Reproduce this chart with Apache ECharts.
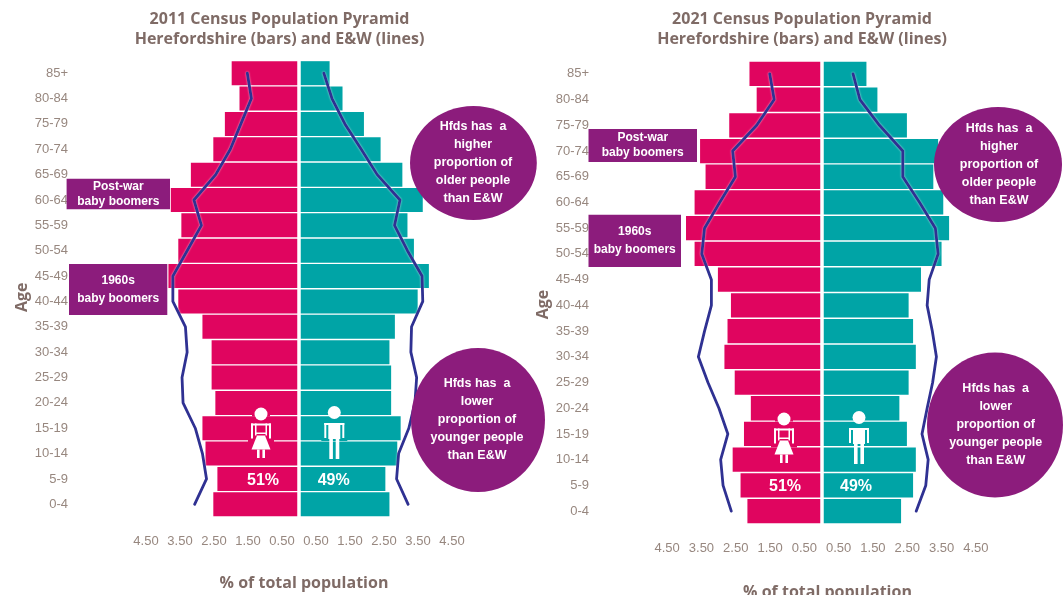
<!DOCTYPE html>
<html>
<head>
<meta charset="utf-8">
<script src="https://cdn.jsdelivr.net/npm/echarts@6/dist/echarts.min.js"></script>
<style>html,body{margin:0;padding:0;background:#fff}#c{width:1063px;height:595px}</style>
</head>
<body>
<div id="c"></div>
<script>
const ageBands = ['85+','80-84','75-79','70-74','65-69','60-64','55-59','50-54','45-49','40-44','35-39','30-34','25-29','20-24','15-19','10-14','5-9','0-4'];
const tickValues = [-4.5,-3.5,-2.5,-1.5,-0.5,0.5,1.5,2.5,3.5,4.5];

const female2011Bars = [1.98,1.75,2.18,2.52,3.18,3.77,3.46,3.55,3.84,3.55,2.84,2.57,2.57,2.46,2.84,2.75,2.40,2.52];
const male2011Bars   = [0.90,1.28,1.91,2.40,3.04,3.64,3.19,3.38,3.82,3.49,2.82,2.66,2.71,2.71,2.99,2.89,2.54,2.66];
const female2011Line = [1.52,1.40,1.71,2.02,2.45,3.09,2.87,3.29,3.71,3.71,3.34,3.29,3.44,3.41,3.05,2.84,2.72,3.07];
const male2011Line   = [0.73,0.97,1.35,1.83,2.30,2.97,2.81,3.19,3.62,3.64,3.31,3.29,3.46,3.41,3.23,2.93,2.87,3.21];

const female2021Bars = [2.10,1.89,2.69,3.54,3.38,3.70,3.95,3.70,3.02,2.64,2.74,2.83,2.53,2.06,2.26,2.59,2.36,2.16];
const male2021Bars   = [1.31,1.63,2.49,3.40,3.26,3.55,3.72,3.50,2.90,2.54,2.67,2.75,2.54,2.27,2.49,2.75,2.67,2.32];
const female2021Line = [1.51,1.38,1.89,2.59,2.51,2.97,3.41,3.49,3.21,3.21,3.41,3.59,3.31,2.99,2.73,2.94,2.87,2.63];
const male2021Line   = [0.92,1.12,1.69,2.37,2.37,2.86,3.32,3.40,3.14,3.08,3.23,3.35,3.24,3.08,2.93,3.11,3.04,2.76];

const title2011 = '2011 Census Population Pyramid\nHerefordshire (bars) and E&W (lines)';
const title2021 = '2021 Census Population Pyramid\nHerefordshire (bars) and E&W (lines)';
const xName = '% of total population';
const yName = 'Age';
const postWar = 'Post-war\nbaby boomers';
const sixties = '1960s\nbaby boomers';
const olderNote = 'Hfds has  a\nhigher\nproportion of\nolder people\nthan E&W';
const youngerNote = 'Hfds has  a\nlower\nproportion of\nyounger people\nthan E&W';

const PINK = '#e0055f', TEAL = '#00a4a6', NAVY = '#2f3192', PURPLE = '#8c1c7c', GREY = '#97877f', BROWN = '#7f6b66';
const neg = a => a.map(v => -v);

function buildSeries(idx, fBars, mBars, fLine, mLine, barW) {
  const bar = (name, data, color, extra) => Object.assign({
    name, type: 'bar', xAxisIndex: idx, yAxisIndex: idx, stack: 'p' + idx, data, barWidth: barW,
    itemStyle: { color }, silent: true, z: 2
  }, extra || {});
  const line = (name, data) => ({
    name, type: 'line', xAxisIndex: idx, yAxisIndex: idx, data, symbol: 'none', z: 5, silent: true,
    lineStyle: { color: NAVY, width: 2.8, cap: 'round', join: 'round', shadowColor: 'rgba(255,255,255,.75)', shadowBlur: 2 }
  });
  return [
    bar('Herefordshire female', neg(fBars), PINK),
    bar('Herefordshire male', mBars, TEAL, {
      markLine: { silent: true, symbol: 'none', label: { show: false }, animation: false,
        lineStyle: { color: '#fff', width: 3.5, type: 'solid' }, data: [{ xAxis: 0 }] }
    }),
    line('E&W female', neg(fLine)),
    line('E&W male', mLine)
  ];
}

function xAxisOf(idx, gap, shift) {
  return {
    gridIndex: idx, type: 'value', min: -5, max: 5, position: 'bottom',
    axisLine: { show: false }, axisTick: { show: false }, splitLine: { show: false },
    axisLabel: { customValues: tickValues, margin: 18, color: GREY, fontFamily: 'Liberation Sans', fontSize: 13,
      formatter: v => Math.abs(v).toFixed(2) },
    name: xName, nameLocation: 'middle', nameGap: gap,
    nameTextStyle: { color: BROWN, fontFamily: 'Open Sans', fontWeight: 'bold', fontSize: 16, padding: [0, 0, 0, shift] }
  };
}
function yAxisOf(idx, gap, shift) {
  return {
    gridIndex: idx, type: 'category', inverse: true, data: ageBands,
    axisLine: { show: false, onZero: false }, axisTick: { show: false }, splitLine: { show: false },
    axisLabel: { margin: 61, color: GREY, fontFamily: 'Liberation Sans', fontSize: 13, interval: 0 },
    name: yName, nameLocation: 'middle', nameGap: gap,
    nameTextStyle: { color: BROWN, fontFamily: 'Open Sans', fontWeight: 'bold', fontSize: 16, padding: [0, shift, 0, 0] }
  };
}

function box(x, y, w, h, text, lh) {
  return [
    { type: 'rect', z: 20, silent: true, shape: { x, y, width: w, height: h }, style: { fill: PURPLE } },
    { type: 'text', z: 21, silent: true, x: x + w / 2, y: y + h / 2,
      style: { text, fill: '#fff', font: 'bold 12px "Liberation Sans"', align: 'center', verticalAlign: 'middle', lineHeight: lh } }
  ];
}
function bubble(cx, cy, rx, ry, tx, text) {
  return [
    { type: 'ellipse', z: 20, silent: true, shape: { cx, cy, rx, ry }, style: { fill: PURPLE } },
    { type: 'text', z: 21, silent: true, x: tx, y: cy,
      style: { text, fill: '#fff', font: 'bold 12.5px "Liberation Sans"', align: 'center', verticalAlign: 'middle', lineHeight: 18 } }
  ];
}
function r(x, y, w, h, fill) {
  return { type: 'rect', z: 12, silent: true, shape: { x, y, width: w, height: h }, style: { fill: fill || '#fff' } };
}
function gapPatch(cx, top, color) {
  return [ r(cx - 9, top + 6, 18, 3, color), r(cx - 13, top + 32, 26, 3, color) ];
}
function woman(cx, top) {
  return [
    ...gapPatch(cx, top, PINK),
    { type: 'circle', z: 13, silent: true, shape: { cx, cy: top + 6.5, r: 6.5 }, style: { fill: '#fff' } },
    r(cx - 10, top + 16, 20, 2), r(cx - 10, top + 16, 2, 15), r(cx + 8, top + 16, 2, 15),
    r(cx - 6, top + 16, 1.5, 12), r(cx + 4.5, top + 16, 1.5, 12), r(cx - 6, top + 25, 12, 1.5),
    { type: 'polygon', z: 13, silent: true, shape: { points: [[cx - 4, top + 28], [cx + 4, top + 28], [cx + 9.5, top + 42], [cx - 9.5, top + 42]] }, style: { fill: '#fff' } },
    r(cx - 4, top + 42, 2.6, 8.5), r(cx + 1.4, top + 42, 2.6, 8.5)
  ];
}
function man(cx, top) {
  return [
    ...gapPatch(cx, top, TEAL),
    { type: 'circle', z: 13, silent: true, shape: { cx, cy: top + 6.5, r: 6.5 }, style: { fill: '#fff' } },
    r(cx - 10, top + 17, 20, 2), r(cx - 10, top + 17, 2, 15), r(cx + 8, top + 17, 2, 15),
    r(cx - 6, top + 17, 12, 16),
    r(cx - 5, top + 33, 3.6, 20), r(cx + 1.4, top + 33, 3.6, 20)
  ];
}
function pct(x, y, text) {
  return { type: 'text', z: 14, silent: true, x, y,
    style: { text, fill: '#fff', font: 'bold 16px "Liberation Sans"', align: 'center', verticalAlign: 'middle' } };
}

const titleStyle = { color: BROWN, fontFamily: 'Open Sans', fontWeight: 'bold', fontSize: 16, lineHeight: 19.5, align: 'center' };

const option = {
  backgroundColor: '#fff',
  animation: false,
  title: [
    { text: title2011, left: 279.5, top: 10, textAlign: 'center', textStyle: titleStyle, padding: 0 },
    { text: title2021, left: 802, top: 10, textAlign: 'center', textStyle: titleStyle, padding: 0 }
  ],
  grid: [
    { left: 129, width: 340, top: 60.5, height: 456.5, outerBoundsMode: 'none' },
    { left: 650, width: 343, top: 61, height: 463, outerBoundsMode: 'none' }
  ],
  xAxis: [ xAxisOf(0, 58, 10), xAxisOf(1, 60, 12) ],
  yAxis: [ yAxisOf(0, 97, 17), yAxisOf(1, 99, 24) ],
  series: [
    ...buildSeries(0, female2011Bars, male2011Bars, female2011Line, male2011Line, 24),
    ...buildSeries(1, female2021Bars, male2021Bars, female2021Line, male2021Line, 24.3)
  ],
  graphic: { elements: [
    ...box(66.6, 178.7, 103.4, 30.6, postWar, 15),
    ...box(69, 264, 98.3, 51, sixties, 18),
    ...bubble(473.4, 163, 63.4, 57, 473, olderNote),
    ...bubble(478, 420, 67, 72, 477, youngerNote),
    ...woman(261, 407.5), ...man(334.3, 406),
    pct(263, 481, '51%'), pct(333.7, 481, '49%'),
    ...box(588.5, 129, 108.5, 33, postWar, 15),
    ...box(588.5, 214.7, 92.5, 52.3, sixties, 18),
    ...bubble(998, 164.5, 64, 57.5, 999, olderNote),
    ...bubble(995, 425, 68, 72.5, 995.7, youngerNote),
    ...woman(784, 412.5), ...man(859, 411),
    pct(785, 487, '51%'), pct(856, 487, '49%')
  ] }
};
echarts.init(document.getElementById('c'), null, { renderer: 'canvas' }).setOption(option);
</script>
</body>
</html>
